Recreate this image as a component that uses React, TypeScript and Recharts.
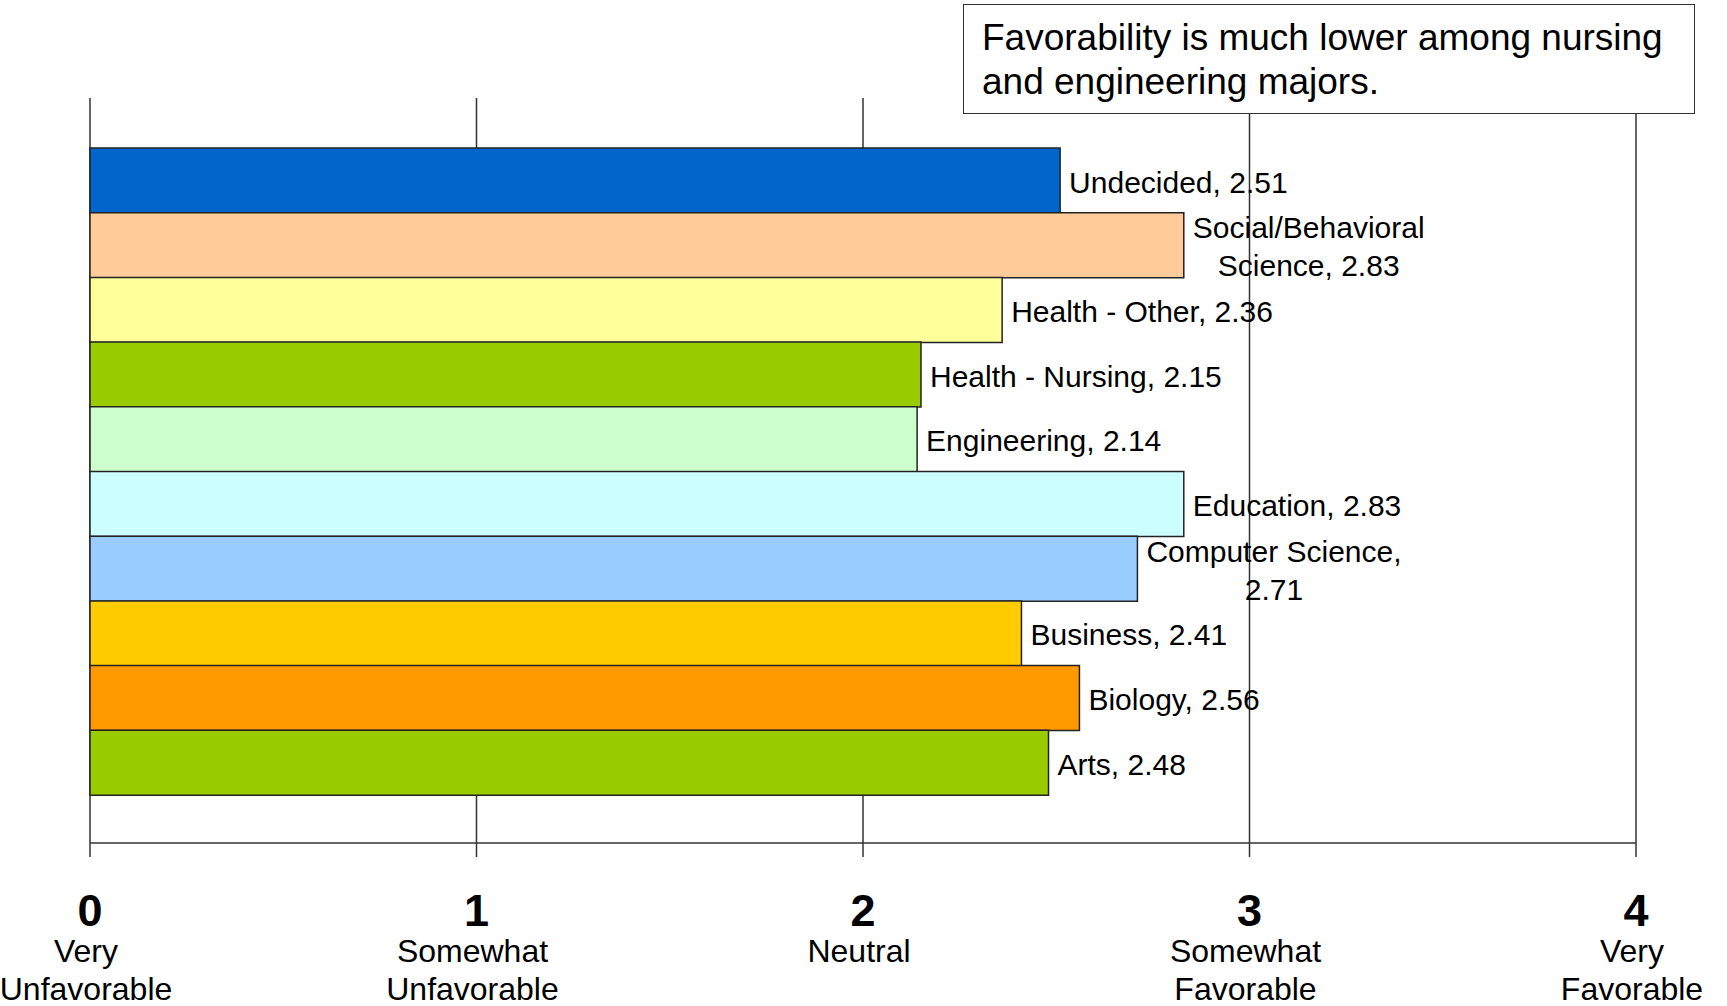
import React from "react";
import {
  BarChart,
  Bar,
  XAxis,
  YAxis,
  CartesianGrid,
  Cell,
  LabelList,
} from "recharts";

const categories = [
  "Undecided",
  "Social/Behavioral Science",
  "Health - Other",
  "Health - Nursing",
  "Engineering",
  "Education",
  "Computer Science",
  "Business",
  "Biology",
  "Arts",
];
const values = [2.51, 2.83, 2.36, 2.15, 2.14, 2.83, 2.71, 2.41, 2.56, 2.48];
const colors = [
  "#0066CC",
  "#FFCC99",
  "#FFFF99",
  "#99CC00",
  "#CCFFCC",
  "#CCFFFF",
  "#99CCFF",
  "#FFCC00",
  "#FF9900",
  "#99CC00",
];
const labelLines = [
  ["Undecided, 2.51"],
  ["Social/Behavioral", "Science, 2.83"],
  ["Health - Other, 2.36"],
  ["Health - Nursing, 2.15"],
  ["Engineering, 2.14"],
  ["Education, 2.83"],
  ["Computer Science,", "2.71"],
  ["Business, 2.41"],
  ["Biology, 2.56"],
  ["Arts, 2.48"],
];
const tickValues = [0, 1, 2, 3, 4];
const tickWords = [
  ["Very", "Unfavorable"],
  ["Somewhat", "Unfavorable"],
  ["Neutral"],
  ["Somewhat", "Favorable"],
  ["Very", "Favorable"],
];
const titleLines = [
  "Favorability is much lower among nursing",
  "and engineering majors.",
];

const FONT = "'Liberation Sans', Arial, sans-serif";
const LABEL_SIZE = 30;
const TICK_WORD_SIZE = 32;

const data = categories.map((c, i) => ({ category: c, value: values[i] }));

let ctx: CanvasRenderingContext2D | null = null;
function measure(text: string, size: number): number {
  if (!ctx) {
    const c = document.createElement("canvas");
    ctx = c.getContext("2d");
  }
  if (!ctx) return text.length * size * 0.5;
  ctx.font = `${size}px 'Liberation Sans', Arial`;
  return ctx.measureText(text).width;
}

const BarLabel = (props: any) => {
  const vb = props.viewBox || props;
  const x = Number(vb.x);
  const y = Number(vb.y);
  const w = Number(vb.width);
  const h = Number(vb.height);
  const idx = props.index;
  const lines = labelLines[idx] || [];
  const endX = x + w;
  const cy = y + h / 2 + 1.5;
  const maxW = Math.max(...lines.map((l) => measure(l, LABEL_SIZE)));
  const cx = endX + 9 + maxW / 2;
  const lh = 38;
  const n = lines.length;
  return (
    <g>
      {lines.map((l, i) => {
        const lc = cy + (i - (n - 1) / 2) * lh;
        return (
          <text
            key={i}
            x={cx}
            y={lc + LABEL_SIZE * 0.35}
            textAnchor="middle"
            fontSize={LABEL_SIZE}
            fontFamily={FONT}
            fill="#000"
          >
            {l}
          </text>
        );
      })}
    </g>
  );
};

const XTick = (props: any) => {
  const { x, y, payload } = props;
  const i = tickValues.indexOf(payload.value);
  const words = tickWords[i] || [];
  return (
    <g>
      <text
        x={x}
        y={y + 69}
        textAnchor="middle"
        fontSize={45}
        fontWeight="bold"
        fontFamily={FONT}
        fill="#000"
      >
        {payload.value}
      </text>
      {words.map((wd, k) => (
        <text
          key={k}
          x={x - 4}
          y={y + 105 + k * 38}
          textAnchor="middle"
          fontSize={TICK_WORD_SIZE}
          fontFamily={FONT}
          fill="#000"
        >
          {wd}
        </text>
      ))}
    </g>
  );
};

export default function App() {
  return (
    <div
      style={{
        position: "absolute",
        left: 0,
        top: 0,
        width: 1727,
        height: 1006,
        background: "#fff",
      }}
    >
      <BarChart
        width={1727}
        height={1006}
        data={data}
        layout="vertical"
        margin={{ top: 98, right: 91, bottom: 0, left: 90 }}
        barCategoryGap={0}
        barGap={0}
      >
        <CartesianGrid
          xAxisId="bottom"
          yAxisId="cat"
          horizontal={false}
          vertical={true}
          stroke="#333"
          strokeWidth={1.5}
        />
        <XAxis
          xAxisId="bottom"
          type="number"
          domain={[0, 4]}
          ticks={tickValues}
          orientation="bottom"
          height={163}
          tickSize={14}
          tickMargin={0}
          axisLine={{ stroke: "#333", strokeWidth: 1.5 }}
          tickLine={{ stroke: "#333", strokeWidth: 1.5 }}
          tick={<XTick />}
          interval={0}
        />
        <XAxis
          xAxisId="top"
          type="number"
          domain={[0, 4]}
          orientation="top"
          height={0}
          axisLine={{ stroke: "#333", strokeWidth: 1.5 }}
          tickLine={false}
          tick={false}
        />
        <YAxis
          yAxisId="cat"
          type="category"
          dataKey="category"
          width={0}
          padding={{ top: 50, bottom: 48 }}
          axisLine={{ stroke: "#333", strokeWidth: 1.5 }}
          tickLine={false}
          tick={false}
        />
        <YAxis
          yAxisId="frame"
          type="number"
          domain={[0, 1]}
          ticks={[0, 1]}
          width={0}
          tickSize={15}
          axisLine={false}
          tickLine={{ stroke: "#333", strokeWidth: 1.5 }}
          tick={false}
        />
        <Bar
          xAxisId="bottom"
          yAxisId="cat"
          dataKey="value"
          stroke="#222"
          strokeWidth={1.5}
          isAnimationActive={false}
        >
          {data.map((d, i) => (
            <Cell key={d.category} fill={colors[i]} />
          ))}
          <LabelList dataKey="value" content={<BarLabel />} />
        </Bar>
      </BarChart>
      <div
        style={{
          position: "absolute",
          left: 963,
          top: 4,
          width: 732,
          height: 110,
          boxSizing: "border-box",
          border: "1.5px solid #333",
          background: "#fff",
          fontFamily: FONT,
          fontSize: 37,
          lineHeight: "44px",
          paddingTop: 11,
          paddingLeft: 18,
          whiteSpace: "nowrap",
          color: "#000",
        }}
      >
        {titleLines.map((t) => (
          <div key={t}>{t}</div>
        ))}
      </div>
    </div>
  );
}
